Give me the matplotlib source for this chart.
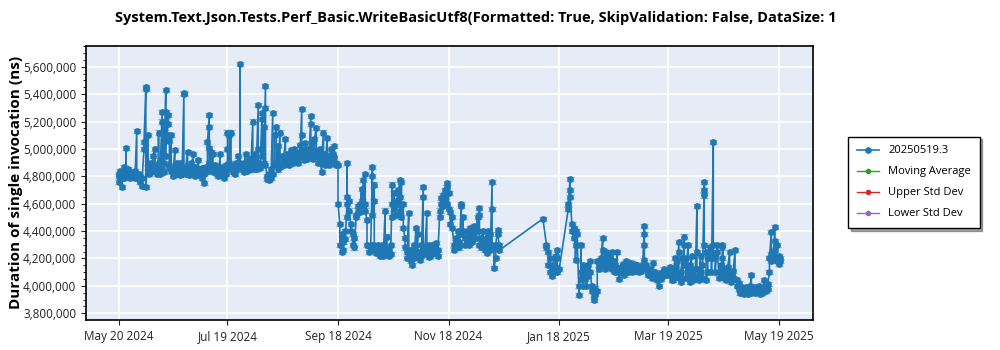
import numpy as np
import pandas as pd
import matplotlib
matplotlib.use("Agg")
import matplotlib.pyplot as plt
import matplotlib.dates as mdates
from matplotlib.ticker import FuncFormatter, MultipleLocator

plt.rcParams['font.family'] = ['Open Sans', 'DejaVu Sans']

title = "System.Text.Json.Tests.Perf_Basic.WriteBasicUtf8(Formatted: True, SkipValidation: False, DataSize: 1"
ylabel = "Duration of single invocation (ns)"
series_names = ["20250519.3", "Moving Average", "Upper Std Dev", "Lower Std Dev"]
start_date = "2024-05-20"
tick_dates = ["2024-05-20", "2024-07-19", "2024-09-18", "2024-11-18",
              "2025-01-18", "2025-03-19", "2025-05-19"]
std_err_ns = 15000

# days after start_date, and the runs (thousands of ns) measured that day
day_offset = list(range(0, 211)) + [234] + list(range(236, 243)) + [243] + \
    list(range(248, 302)) + list(range(303, 366))
runs_k = [
    # May - Jul 2024
    [4800, 4760, 4820], [4780, 4840], [4720, 4810], [4870, 4790], [4830, 5010, 4800],
    [4810, 4850], [4790, 4820], [4830, 4800], [4810], [4840, 4790],
    [5130, 4800], [4780, 4820], [4760, 4800], [4730, 4790], [5000, 5050],
    [5450, 5440, 4720], [4900, 5100, 4860], [4850, 4880, 4820], [4900, 4830], [4860, 4950],
    [5000, 4840], [4880, 4820], [4900, 5120, 4850], [4820, 4870], [5270, 5200, 4850],
    [5150, 4900, 4830], [5430, 5270, 5200, 4950], [5250, 5180, 5100], [5060, 4860, 4880], [5100, 4840],
    [4800, 4830], [4990, 4850], [4870, 4820, 4900], [4860, 4830], [4900, 4810],
    [4850, 4820], [5400, 5410, 4830], [4820, 4870], [4980, 4830], [4860, 4810],
    [4900, 4840], [4960, 4830], [4870, 4800], [4840, 4810], [4920, 4830],
    [4850, 4820], [4860, 4790], [4750, 4820], [4870, 4830], [4840, 5050],
    [5250, 5160, 5010, 4900], [4980, 4850], [4960, 4830], [4880, 4840], [4820, 4860],
    [4850, 4800], [4960, 4830], [4870, 4810], [4840, 4790], [4880, 4820],
    [4850, 5000, 5120],
    # Jul - Sep 2024
    [5100, 4900], [5120, 4860], [4830, 4880], [4860, 4820], [4900, 4850],
    [4950, 4860], [4870, 5620, 4900], [4880, 4850], [4900, 4830], [4960, 4870],
    [4880, 4840], [4930, 4860], [4850, 4900], [5200, 4920], [4880, 4960],
    [4850, 4900], [5320, 5000, 4880], [4900, 4860], [5220, 5260, 4950], [5160, 4900],
    [5460, 5300, 4880], [4800, 4780], [4770, 4820], [4850, 4790], [5260, 4820],
    [4900, 5100], [5160, 4880], [5020, 4850], [5120, 4870], [4900, 4950],
    [4880, 4920], [5070, 4930], [4900, 4960], [4950, 4880], [4990, 4920],
    [4960, 4900], [4930, 5000], [4980, 4920], [4950, 4900], [5030, 4940],
    [5290, 5100, 4950], [4990, 4920], [4960, 5040], [4980, 4930], [5000, 4950],
    [5240, 5180, 4960], [5050, 4930], [4990, 5070], [5150, 4950], [4960, 4900],
    [5000, 4920], [4830, 4940], [5120, 4900], [4960, 4880], [5080, 4900],
    [4950, 4880], [4920, 5000], [4960, 4900], [5020, 4940], [4880, 4900],
    # Sep - Nov 2024
    [4880, 4600], [4450, 4300], [4380, 4250], [4350, 4260, 4320], [4400, 4340],
    [4600, 4650, 4900, 4500], [4620, 4550], [4450, 4400], [4380, 4300], [4350, 4280],
    [4500, 4520], [4550, 4580], [4600, 4540], [4710, 4620], [4770, 4580],
    [4820, 4600, 4550], [4480, 4300], [4290, 4250], [4300, 4260], [4870, 4800, 4520],
    [4740, 4620, 4300], [4280, 4240], [4300, 4250], [4260, 4220], [4300, 4240],
    [4250, 4220], [4550, 4280], [4360, 4250], [4220, 4260], [4300, 4230],
    [4740, 4600, 4500], [4680, 4560], [4620, 4520], [4700, 4600], [4770, 4650, 4550],
    [4760, 4500], [4600, 4420], [4350, 4280], [4250, 4200], [4530, 4260],
    [4220, 4180], [4260, 4150], [4300, 4200], [4420, 4220], [4380, 4250],
    [4250, 4190], [4300, 4220], [4720, 4650, 4250], [4230, 4280], [4530, 4240],
    [4300, 4210], [4270, 4220], [4300, 4230], [4280, 4250], [4240, 4310],
    [4260, 4220], [4500, 4550], [4600, 4640], [4580, 4660], [4700, 4620],
    [4750, 4720, 4600], [4680, 4560],
    # Nov 2024 - Jan 2025
    [4540, 4450], [4500, 4420], [4300, 4260], [4350, 4280], [4400, 4300],
    [4320, 4280], [4600, 4580, 4380], [4500, 4400], [4350, 4300], [4400, 4340],
    [4380, 4300], [4420, 4350], [4360, 4320], [4440, 4400], [4400, 4350],
    [4500, 4400], [4570, 4520, 4300], [4280, 4350], [4400, 4320], [4300, 4260],
    [4360, 4240], [4400, 4300], [4380, 4260], [4760, 4560, 4300], [4280, 4130],
    [4200, 4300], [4410, 4380], [4300, 4260],
    [4490],
    [4300, 4280], [4250, 4150], [4200, 4100], [4070, 4150], [4100, 4200],
    [4220, 4140], [4260, 4200, 4100], [4120],
    # Jan - Mar 2025
    [4560, 4600], [4780, 4700, 4650], [4450, 4400], [4350, 4420], [4300, 4190, 4400],
    [4380, 4300], [3930, 4000], [4100, 4300, 4050], [4150, 4000], [4100, 4050],
    [4120, 4000], [4150, 4070], [4180, 4100], [4000, 3960], [3900, 3920],
    [3940, 3980], [3960, 4180], [4120, 4150], [4200, 4160], [4350, 4260, 4200],
    [4200, 4120], [4250, 4180], [4220, 4140], [4160, 4200], [4120, 4250],
    [4180, 4110], [4150, 4100], [4250, 4130], [4050, 4100], [4140, 4100],
    [4120, 4160], [4080, 4110], [4180, 4130], [4100, 4150], [4130, 4170],
    [4120, 4100], [4160, 4120], [4140, 4110], [4130, 4150], [4100, 4120],
    [4140, 4110], [4130, 4150], [4440, 4380, 4300, 4190], [4150, 4120], [4100, 4080],
    [4120, 4090], [4060, 4100], [4170, 4080], [4100, 4060], [4080, 4040],
    [4000, 4060], [4090, 4050], [4070, 4100], [4120, 4080],
    # Mar - May 2025
    [4100, 4080], [4140, 4100], [4080, 4040], [4040, 4100], [4200, 4120],
    [4180, 4080], [4320, 4250, 4060], [4030, 4100], [4200, 4060], [4360, 4300, 4150],
    [4200, 4060], [4300, 4100], [4150, 4030], [4220, 4100], [4080, 4040],
    [4120, 4050], [4580, 4250, 4120], [4080, 4040], [4220, 4100], [4150, 4060],
    [4760, 4700, 4660, 4300], [4250, 4040], [4100, 4200], [4280, 4220], [4250, 4100],
    [5050, 4300, 4200], [4220, 4100], [4250, 4300], [4100, 4060], [4150, 4080],
    [4200, 4280, 4300], [4120, 4060], [4100, 4040], [4080, 4140], [4250, 4060],
    [4100, 4030], [4060, 4110], [4260, 4050], [4040, 4000], [4020, 3980],
    [3970, 3950], [3990, 3960], [3980, 3940], [3960, 3990], [3940, 3970],
    [4000, 3960], [4080, 3950], [3970, 3990], [3950, 3980], [3990, 3960],
    [3970, 4000], [3960, 3940], [3980, 3950], [4040, 3970], [3990, 3960],
    [3980, 4010], [4100, 4200], [4390, 4230, 4180], [4250, 4200], [4430, 4330, 4260, 4200],
    [4300, 4180], [4220, 4160], [4200, 4180],
]

base = pd.Timestamp(start_date)
dates = []
durations = []
for d, runs in zip(day_offset, runs_k):
    for r in runs:
        dates.append(base + pd.Timedelta(days=d))
        durations.append(r * 1000)

fig = plt.figure(figsize=(10, 3.5), dpi=100)
ax = fig.add_axes([0.086, 0.086, 0.727, 0.783])
ax.set_facecolor('#E5ECF6')

blue = '#1f77b4'
ax.errorbar(dates, durations, yerr=std_err_ns, fmt='none', ecolor=blue,
            alpha=0.5, elinewidth=1, capsize=3, zorder=2)
ax.plot(dates, durations, color=blue, lw=1.2, marker='o', markersize=3.8,
        label=series_names[0], zorder=3)
for name, c in zip(series_names[1:], ['#2ca02c', '#d62728', '#9467bd']):
    ax.plot([], [], color=c, lw=1, marker='o', markersize=3, label=name)

ax.grid(True, color='white', lw=1.2)
ax.set_axisbelow(True)
for s in ax.spines.values():
    s.set_color('black')
    s.set_linewidth(1.2)

ax.set_xlim(pd.Timestamp("2024-05-02"), pd.Timestamp("2025-06-07"))
ax.set_ylim(3751000, 5753000)
ax.set_xticks([pd.Timestamp(t) for t in tick_dates])
ax.xaxis.set_major_formatter(mdates.DateFormatter('%b %d %Y'))
ax.yaxis.set_major_locator(MultipleLocator(200000))
ax.yaxis.set_minor_locator(MultipleLocator(50000))
ax.yaxis.set_major_formatter(FuncFormatter(lambda v, p: f'{v:,.0f}'))
ax.tick_params(axis='both', labelsize=8.5, colors='#222222', direction='out')
ax.tick_params(axis='y', which='minor', length=2)

ax.set_ylabel(ylabel, fontsize=11, fontweight='bold')
ax.yaxis.set_label_coords(-0.087, 0.5)
fig.text(0.115, 0.948, title, fontsize=10.5, fontweight='bold', ha='left', va='center')

leg = fig.legend(loc='upper left', bbox_to_anchor=(0.848, 0.61), fontsize=8,
                 frameon=True, fancybox=False, shadow=True, borderpad=0.8,
                 borderaxespad=0, handlelength=2, labelspacing=0.9)
leg.get_frame().set_edgecolor('black')
leg.get_frame().set_linewidth(1)

fig.savefig('out.png', dpi=100)
